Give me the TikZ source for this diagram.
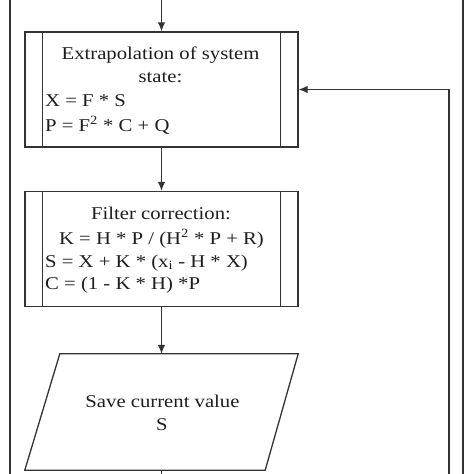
\documentclass[tikz,border=0pt]{standalone}
\usepackage{fontspec}
\setmainfont{Liberation Serif}[FakeStretch=1.15]
\usetikzlibrary{arrows.meta}
\definecolor{ln}{HTML}{333333}
\definecolor{tx}{HTML}{1E1E1E}
\begin{document}
\begin{tikzpicture}[x=1pt,y=-1pt,
  line/.style={draw=ln,line width=1.3pt},
  arr/.style={line,-{Latex[length=9pt,width=7.5pt]}},
  procbox/.style={line,minimum width=273pt,minimum height=115pt,inner sep=0pt},
  iobox/.style={minimum width=273pt,minimum height=116pt,inner sep=0pt},
  txt/.style={inner sep=0pt,text=tx,font=\fontsize{18}{20}\selectfont}]
\useasboundingbox (0,0) rectangle (474,474);
\fill[white] (0,0) rectangle (474,474);
% outer frame lines (cropped)
\coordinate (fl1) at (10,0); \coordinate (fl2) at (10,474);
\coordinate (fr1) at (463,0); \coordinate (fr2) at (463,474);
\draw[line] (fl1) -- (fl2);
\draw[line] (fr1) -- (fr2);
% boxes
\node[procbox] (b1) at (161.5,89.5) {};
\draw[line] ([xshift=18pt]b1.north west) -- ([xshift=18pt]b1.south west);
\draw[line] ([xshift=-18pt]b1.north east) -- ([xshift=-18pt]b1.south east);
\node[procbox] (b2) at (161.5,249) {};
\draw[line] ([xshift=18pt]b2.north west) -- ([xshift=18pt]b2.south west);
\draw[line] ([xshift=-18pt]b2.north east) -- ([xshift=-18pt]b2.south east);
\node[iobox] (io) at (161.5,412) {};
\draw[line] ([xshift=35pt]io.north west) -- (io.north east) -- ([xshift=-33pt]io.south east) -- (io.south west) -- cycle;
% texts
\node[txt,anchor=base] (t1) at (160.5,59) {Extrapolation of system};
\node[txt,anchor=base] (t2) at (160.5,82.5) {state:};
\node[txt,anchor=base west] (t3) at (45,106) {X = F * S};
\node[txt,anchor=base west] (t4) at (45,131) {P = F\textsuperscript{2} * C + Q};
\node[txt,anchor=base] (t5) at (161,219) {Filter correction:};
\node[txt,anchor=base] (t6) at (161.5,244) {K = H * P / (H\textsuperscript{2} * P + R)};
\node[txt,anchor=base west] (t7) at (45,267) {S = X + K * (x\textsubscript{i} - H * X)};
\node[txt,anchor=base west] (t8) at (45,289) {C = (1 - K * H) *P};
\node[txt,anchor=base] (t9) at (162.5,407) {Save current value};
\node[txt,anchor=base] (t10) at (162,430) {S};
% connectors
\coordinate (top) at (161.5,0);
\coordinate (bot) at (161.5,474);
\coordinate (fb) at (449,474);
\draw[arr] (top) -- (b1.north);
\draw[arr] (b1.south) -- (b2.north);
\draw[arr] (b2.south) -- (io.north);
\draw[line] (io.south) -- (bot);
\draw[arr] (fb) |- (b1.east);
\end{tikzpicture}
\end{document}
